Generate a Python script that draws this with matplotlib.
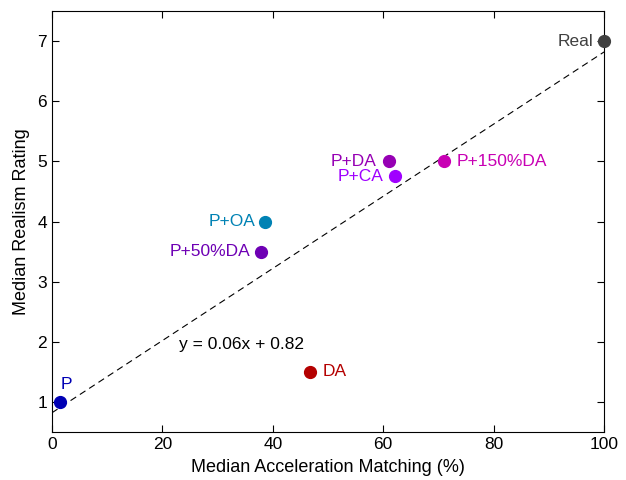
import matplotlib
matplotlib.use("Agg")
import matplotlib.pyplot as plt
import numpy as np

plt.rcParams['font.family'] = ['Liberation Sans', 'DejaVu Sans']

labels = ["P", "DA", "P+OA", "P+50%DA", "P+DA", "P+CA", "P+150%DA", "Real"]
accel = [1.5, 46.8, 38.5, 37.8, 61.0, 62.2, 71.0, 100.0]
realism = [1.0, 1.5, 4.0, 3.5, 5.0, 4.75, 5.0, 7.0]
colors = ["#0000b4", "#b40000", "#0082b4", "#6e00b4", "#9600b4", "#a000ff", "#c800b4", "#404040"]
# label offsets (points) and alignment
offsets = [(0.4, 7.2), (8.6, 0), (-6.2, 0), (-7.2, 0), (-8.6, 0), (-8.6, 0), (9.2, 0), (-8.0, 0)]
aligns = ["left", "left", "right", "right", "right", "right", "left", "right"]

slope, intercept = 0.06, 0.82

fig = plt.figure(figsize=(6.26, 4.8), dpi=100)
ax = fig.add_axes([0.083, 0.1, 0.882, 0.877])

xl = np.array([0, 100])
ax.plot(xl, slope * xl + intercept, color="black", lw=0.8, dashes=(6, 4))

for x, y, lab, c, off, ha in zip(accel, realism, labels, colors, offsets, aligns):
    ax.plot(x, y, 'o', color=c, markersize=8.5, clip_on=False, zorder=3)
    ax.annotate(lab, (x, y), xytext=off, textcoords='offset points',
                ha=ha, va='center' if off[1] == 0 else 'bottom', color=c, fontsize=12.5)

ax.text(23.0, 1.96, "y = 0.06x + 0.82", fontsize=12.5, ha='left', va='center')

ax.set_xlim(0, 100)
ax.set_ylim(0.5, 7.5)
ax.set_xticks([0, 20, 40, 60, 80, 100])
ax.set_yticks([1, 2, 3, 4, 5, 6, 7])
ax.tick_params(direction='in', top=True, right=True, labelsize=12.5, length=5, width=0.8)
for s in ax.spines.values():
    s.set_linewidth(0.8)
ax.set_xlabel("Median Acceleration Matching (%)", fontsize=13, labelpad=5)
ax.set_ylabel("Median Realism Rating", fontsize=13, labelpad=5)

fig.savefig("out.png", dpi=100)
